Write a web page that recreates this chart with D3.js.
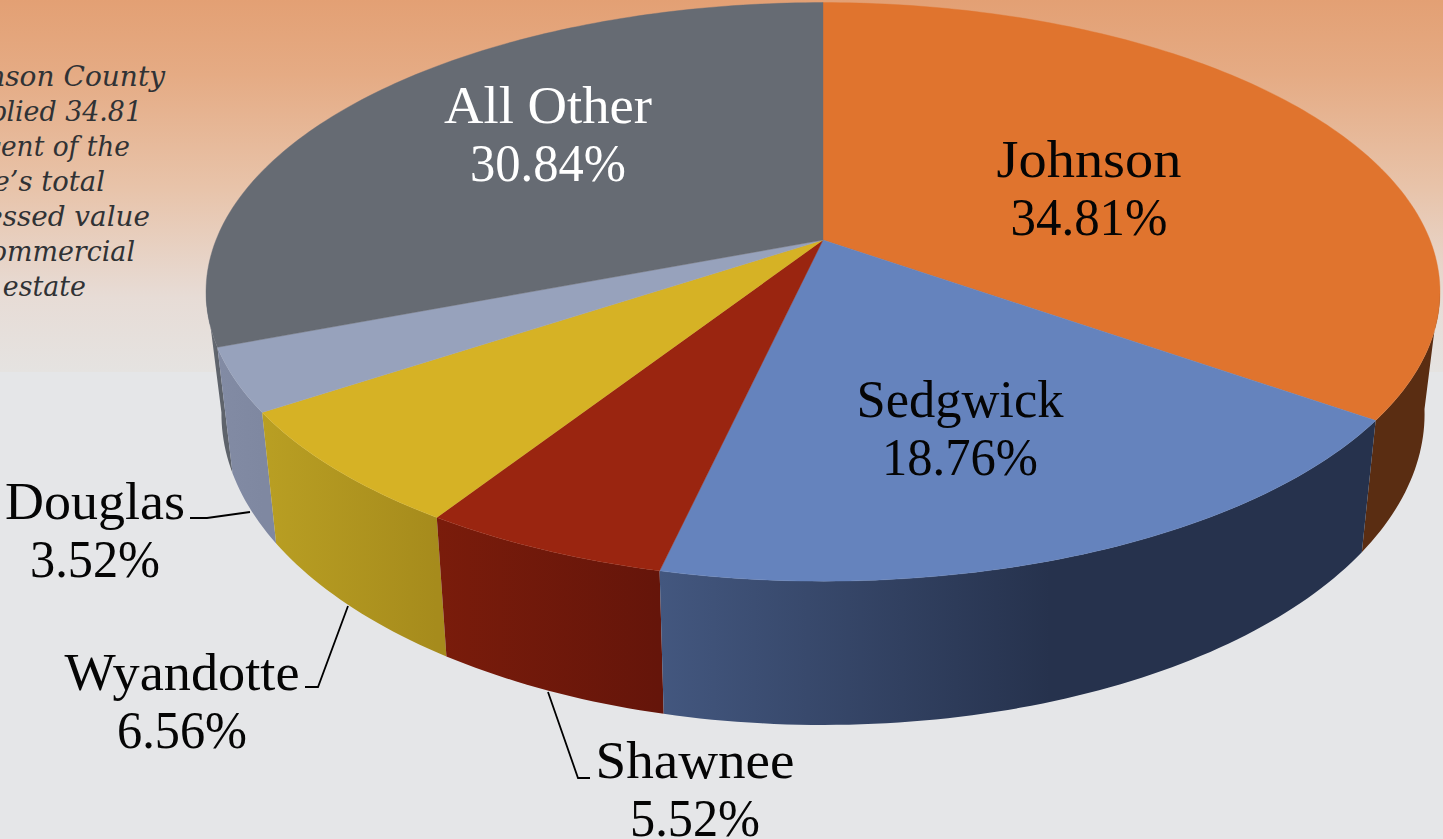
<!DOCTYPE html>
<html>
<head>
<meta charset="utf-8">
<script src="https://cdn.jsdelivr.net/npm/d3@7"></script>
<style>
html,body{margin:0;padding:0;background:#e5e6e8;overflow:hidden}
svg{display:block}
</style>
</head>
<body>
<svg id="chart" width="1443" height="839"></svg>
<script>
// --- data
const categories = ["Johnson", "Sedgwick", "Shawnee", "Wyandotte", "Douglas", "All Other"];
const shareValues = [34.81, 18.76, 5.52, 6.56, 3.52, 30.84];
const noteLines = ["Johnson County", "supplied 34.81", "percent of the", "state\u2019s total", "assessed value", "of commercial", "real estate"];
// --- styles
const topColors = ["#e0742e", "#6583bd", "#9a2510", "#d6b225", "#97a2bc", "#666b73"];
const wallFrom  = ["#5a2d12", "#43577f", "#7a1c0b", "#b99f23", "#828ba4", "#6c7179"];
const wallTo    = ["#5a2d12", "#26324d", "#65150a", "#a68b1c", "#7f88a1", "#5e636b"];
const labelColors = ["#050505", "#050505", "#050505", "#050505", "#050505", "#fff"];
// --- layout
const labelAnchors = [[1089,177],[960,417],[695,778],[182,690],[95,519],[548,123]];
const nameWidths = [185,207,199,235,180,208];
const pctWidths = [157,156,130,130,130,156];
const noteWidths = [224,201,189,164,209,194,145];
const leaders = [null,null,
  [[590,778],[578,778],[548,692]],
  [[305,687],[318,687],[348,606]],
  [[190,518],[207,518],[250,512]],
  null];
const W = 1443, H = 839;
const cx = 823, cy = 240, k = 0.1793, a = 280, b = 607, depth = 118, bottomScale = 0.975;

const svg = d3.select("#chart");
const defs = svg.append("defs");
const bg = defs.append("linearGradient").attr("id","bg").attr("x1",0).attr("y1",0).attr("x2",0).attr("y2",1);
[[0,"#e3a074"],[0.2,"#e5ab84"],[0.5,"#e8c3a9"],[0.8,"#e7dcd6"],[1,"#e5e3e1"]].forEach(s =>
  bg.append("stop").attr("offset",s[0]).attr("stop-color",s[1]));
svg.append("rect").attr("width",W).attr("height",H).attr("fill","#e5e6e8");
svg.append("rect").attr("width",W).attr("height",372).attr("fill","url(#bg)");

// note
const note = svg.append("g").attr("font-family","'DejaVu Serif'").attr("font-style","italic")
  .attr("font-size",27).attr("fill","#303235");
note.selectAll("text").data(noteLines).join("text")
  .attr("x",-59).attr("y",(d,i)=>86+i*35)
  .attr("textLength",(d,i)=>noteWidths[i]).attr("lengthAdjust","spacingAndGlyphs").text(d=>d);

// projection of the disc
const sx = d3.scaleLinear().domain([-1,1]).range([cx-b,cx+b]);
const sy = d3.scaleLinear().domain([-1,1]).range([cy-a,cy+a]);
function topPt(t, r=1){
  const u=r*Math.sin(t), v=-r*Math.cos(t), d=1-k*v;
  return [sx(u/d), sy(v/d)];
}
function botPt(t){
  const u=Math.sin(t), v=-Math.cos(t), d=1-k*v;
  return [sx(u/d*bottomScale), sy(v/d)+depth/d];
}
const line = d3.line();
const pie = d3.pie().sort(null)(shareValues);
const slices = pie.map((p,i)=>({...p,i,start:p.startAngle,end:p.endAngle}));
slices.forEach(s=>{
  const n=Math.ceil((s.end-s.start)/(Math.PI/180));
  s.ts=d3.range(n+1).map(j=>s.start+(s.end-s.start)*j/n);
  s.front=s.ts.filter(t=>-Math.cos(t)>=k-0.02);   // only the part of the rim that faces the viewer
  const xs=s.front.map(t=>topPt(t)[0]);
  const g=defs.append("linearGradient").attr("id","wall"+s.i).attr("gradientUnits","userSpaceOnUse")
    .attr("x1",d3.min(xs)).attr("x2",Math.min(d3.max(xs),s.i===1?1050:1e4)).attr("y1",0).attr("y2",0);
  g.append("stop").attr("offset",0).attr("stop-color",wallFrom[s.i]);
  g.append("stop").attr("offset",1).attr("stop-color",wallTo[s.i]);
});
// walls, far slices first
const order = slices.slice().sort((p,q)=>
  d3.max(p.ts,t=>-Math.cos(t))-d3.max(q.ts,t=>-Math.cos(t)));
svg.append("g").selectAll("path").data(order).join("path")
  .attr("d",s=>line([...s.front.map(t=>topPt(t)),...s.front.slice().reverse().map(t=>botPt(t))])+"Z")
  .attr("fill",s=>`url(#wall${s.i})`);
// top faces
svg.append("g").selectAll("path").data(slices).join("path")
  .attr("d",s=>line([topPt(0,0),...s.ts.map(t=>topPt(t))])+"Z")
  .attr("fill",s=>topColors[s.i]).attr("stroke",s=>topColors[s.i]).attr("stroke-width",0.4);

// leaders
svg.append("g").selectAll("path").data(leaders.filter(Boolean)).join("path")
  .attr("d",d=>line(d)).attr("fill","none").attr("stroke","#000").attr("stroke-width",1.8);

// labels
const labels = svg.append("g").attr("font-family","'Liberation Serif'").attr("font-size",52).attr("text-anchor","middle");
slices.forEach(s=>{
  const [x,y]=labelAnchors[s.i];
  labels.append("text").attr("fill",labelColors[s.i]).attr("x",x).attr("y",y)
    .attr("textLength",nameWidths[s.i]).attr("lengthAdjust","spacingAndGlyphs").text(categories[s.i]);
  labels.append("text").attr("fill",labelColors[s.i]).attr("x",x).attr("y",y+57.5)
    .attr("textLength",pctWidths[s.i]).attr("lengthAdjust","spacingAndGlyphs").text(shareValues[s.i].toFixed(2)+"%");
});
</script>
</body>
</html>
